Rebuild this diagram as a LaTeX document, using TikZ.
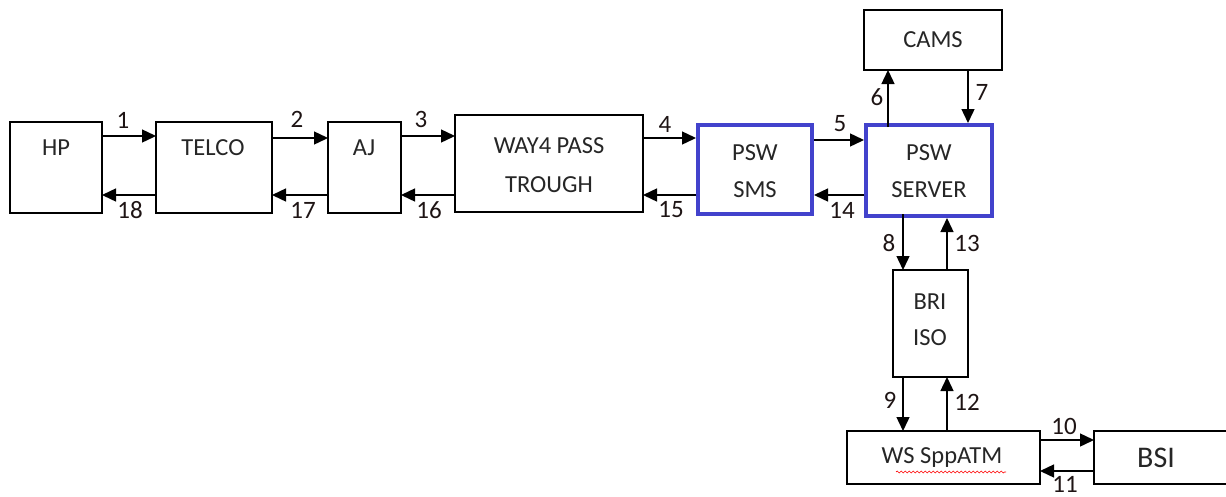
\documentclass[tikz,border=0pt]{standalone}
\usepackage{fontspec}
\setmainfont{Carlito}
\usetikzlibrary{arrows.meta,decorations.pathmorphing}
\definecolor{pswblue}{RGB}{66,66,204}
\definecolor{numcol}{RGB}{30,20,20}
\begin{document}
\begin{tikzpicture}[x=1pt,y=-1pt,
  box/.style={draw=black,line width=1.4pt,inner sep=0pt,outer sep=0pt,fill=white},
  bluebox/.style={draw=pswblue,line width=4pt,inner sep=0pt,outer sep=0pt,fill=white},
  txt/.style={font=\fontsize{24.5}{28}\selectfont,inner sep=0pt,text=black!85},
  num/.style={font=\fontsize{25}{28}\selectfont,inner sep=0pt,text=numcol},
  arr/.style={line width=1.4pt,-{Triangle[length=14pt,width=13pt]}}]
\useasboundingbox (0,0) rectangle (1226,496);
% boxes
\node[box,minimum width=92pt,minimum height=91pt] (hp) at (56,167.5) {};
\node[box,minimum width=116pt,minimum height=91pt] (telco) at (214,167.5) {};
\node[box,minimum width=73pt,minimum height=91pt] (aj) at (364.5,167.5) {};
\node[box,minimum width=188pt,minimum height=97pt] (way) at (549,163.5) {};
\node[bluebox,minimum width=114pt,minimum height=89pt] (sms) at (755,169.5) {};
\node[bluebox,minimum width=126pt,minimum height=91pt] (server) at (929,170.5) {};
\node[box,minimum width=138pt,minimum height=60pt] (cams) at (933,40) {};
\node[box,minimum width=75pt,minimum height=107pt] (bri) at (930.5,323.5) {};
\node[box,minimum width=193pt,minimum height=53pt] (ws) at (943.5,457.5) {};
\node[box,minimum width=134pt,minimum height=53pt] (bsi) at (1161,457.5) {};
% texts
\node[txt] (thp) at (56,148) {HP};
\node[txt] (ttelco) at (213,148) {TELCO};
\node[txt] (taj) at (364,148) {AJ};
\node[txt] (tway1) at (549,146) {WAY4 PASS};
\node[txt] (tway2) at (549,185) {TROUGH};
\node[txt] (tsms1) at (755,153) {PSW};
\node[txt] (tsms2) at (755,190) {SMS};
\node[txt] (tsrv1) at (929,153) {PSW};
\node[txt] (tsrv2) at (929,190) {SERVER};
\node[txt] (tcams) at (933,40) {CAMS};
\node[txt] (tbri1) at (930,302) {BRI};
\node[txt] (tbri2) at (930,338) {ISO};
\node[txt] (tws) at (942,458) {WS SppATM};
\node[font=\fontsize{30}{32}\selectfont,inner sep=0pt,text=black!85] (tbsi) at (1156,458) {BSI};
% spell-check squiggle
\coordinate (sq1) at (896,472);
\coordinate (sq2) at (1006,472);
\draw[red,line width=0.6pt,decorate,decoration={snake,amplitude=1pt,segment length=4pt}] (sq1) -- (sq2);
% y levels
\coordinate (yt1) at (0,136);
\coordinate (yt2) at (0,138);
\coordinate (yt3) at (0,136);
\coordinate (yt4) at (0,138);
\coordinate (yt5) at (0,140);
\coordinate (yb) at (0,195);
\coordinate (x6) at (888,0);
\coordinate (x7) at (968,0);
\coordinate (x8) at (903,0);
\coordinate (x13) at (947,0);
\coordinate (y10) at (0,440);
\coordinate (y11) at (0,471);
% forward arrows
\draw[arr] (hp.east |- yt1) -- (telco.west |- yt1);
\draw[arr] (telco.east |- yt2) -- (aj.west |- yt2);
\draw[arr] (aj.east |- yt3) -- (way.west |- yt3);
\draw[arr] (way.east |- yt4) -- ([xshift=-2pt]sms.west |- yt4);
\draw[arr] ([xshift=2pt]sms.east |- yt5) -- ([xshift=-2pt]server.west |- yt5);
\draw[arr] ([yshift=-2pt]server.north -| x6) -- (cams.south -| x6);
\draw[arr] (cams.south -| x7) -- ([yshift=2pt]server.north -| x7);
\draw[arr] ([yshift=2pt]server.south -| x8) -- (bri.north -| x8);
\draw[arr] (bri.south -| x8) -- (ws.north -| x8);
\draw[arr] (ws.east |- y10) -- (bsi.west |- y10);
% return arrows
\draw[arr] (bsi.west |- y11) -- (ws.east |- y11);
\draw[arr] (ws.north -| x13) -- (bri.south -| x13);
\draw[arr] (bri.north -| x13) -- ([yshift=-2pt]server.south -| x13);
\draw[arr] ([xshift=-2pt]server.west |- yb) -- ([xshift=2pt]sms.east |- yb);
\draw[arr] ([xshift=-2pt]sms.west |- yb) -- (way.east |- yb);
\draw[arr] (way.west |- yb) -- (aj.east |- yb);
\draw[arr] (aj.west |- yb) -- (telco.east |- yb);
\draw[arr] (telco.west |- yb) -- (hp.east |- yb);
% numbers
\node[num] (n1) at (123,120) {1};
\node[num] (n2) at (297,119) {2};
\node[num] (n3) at (421,119) {3};
\node[num] (n4) at (665,124) {4};
\node[num] (n5) at (840,124) {5};
\node[num] (n6) at (877,97) {6};
\node[num] (n7) at (982,92) {7};
\node[num] (n8) at (889,243) {8};
\node[num] (n9) at (890,400) {9};
\node[num] (n10) at (1064,426) {10};
\node[num] (n11) at (1065,484) {11};
\node[num] (n12) at (967,402) {12};
\node[num] (n13) at (967,243) {13};
\node[num] (n14) at (842,210) {14};
\node[num] (n15) at (671,210) {15};
\node[num] (n16) at (429,210) {16};
\node[num] (n17) at (303,210) {17};
\node[num] (n18) at (130,210) {18};
\end{tikzpicture}
\end{document}
